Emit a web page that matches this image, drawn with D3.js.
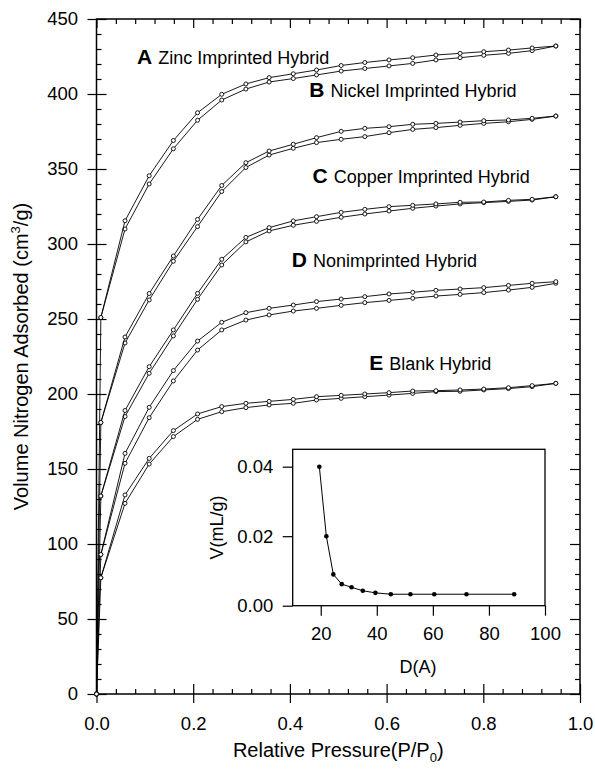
<!DOCTYPE html>
<meta charset="utf-8">
<style>
    body { margin: 0; background: #fff; }
    text { font-family: "Liberation Sans", Arial, Helvetica, sans-serif; fill: #000; }
</style>
<body>
<script src="https://cdn.jsdelivr.net/npm/d3@7/dist/d3.min.js"></script>
<script>

    // relative pressure of each measured point (first one is the origin)
    var pressure = [0, 0.009, 0.059, 0.109, 0.159, 0.209, 0.259, 0.309, 0.357, 0.407, 0.455,
        0.506, 0.555, 0.605, 0.654, 0.702, 0.752, 0.801, 0.852, 0.901, 0.950];

    // adsorption (lower) and desorption (upper) branches, cm3/g
    var zincAds = [0, 251, 310, 340, 363.5, 382.5, 396, 403.3, 408, 410.3, 412.7,
        415.3, 417, 418.7, 420.4, 422.7, 424.2, 425.8, 427.1, 428.9, 432];
    var zincDes = [null, 251, 315.5, 345.5, 369, 387.5, 399.8, 406.7, 410.9, 413.5, 416,
        419, 421, 422.7, 424.2, 426, 427.1, 428.2, 429.3, 430.7, 432];

    var nickelAds = [0, 181, 234, 262.7, 288.5, 311.6, 335, 351, 359.3, 363.8, 367.6,
        369.8, 371.6, 374.2, 376.4, 377.6, 379.1, 380.4, 381.5, 383.1, 385.3];
    var nickelDes = [null, 181, 238, 267, 292, 316.4, 339, 354.2, 362, 366.5, 370.9,
        375.1, 377.1, 378.2, 379.8, 380.4, 381.3, 382.2, 382.7, 383.8, 385.3];

    var copperAds = [0, 132, 185, 213.8, 238.7, 263.1, 286, 301.4, 308.7, 312.5, 315.1,
        317.8, 320, 322, 323.8, 325.3, 326.7, 327.6, 328.4, 329.3, 331.5];
    var copperDes = [null, 132, 189, 218.2, 242.7, 267.1, 289.8, 304.4, 310.9, 315.4, 318.2,
        321.1, 323.1, 324.9, 325.8, 326.7, 327.8, 328, 329.1, 329.8, 331.5];

    var nonAds = [0, 93, 153.8, 184.2, 208.7, 229.3, 242.7, 249.3, 252.7, 255.3, 257.1,
        259.1, 260.9, 262.4, 263.8, 265.3, 266.4, 267.6, 269.3, 271.1, 273.8];
    var nonDes = [null, 93, 160.4, 191.1, 215.6, 235.3, 247.8, 254.2, 257.1, 259.3, 261.6,
        263.3, 264.9, 266.7, 267.8, 269.1, 270, 270.9, 272.4, 273.8, 274.9];

    var blankAds = [0, 77.5, 127.1, 153.3, 171.6, 183.1, 188.2, 190.9, 192.7, 193.8, 196,
        197.1, 198.2, 199.3, 200.4, 201.6, 201.8, 202.7, 203.6, 204.9, 207.1];
    var blankDes = [null, 77.5, 132.7, 157.1, 175.6, 186.7, 191.6, 193.8, 195.1, 196.4, 198.2,
        199.1, 200, 200.9, 202, 202.2, 202.7, 203.3, 204.2, 205.6, 207.1];

    var letters = ["A", "B", "C", "D", "E"];
    var names = ["Zinc Imprinted Hybrid", "Nickel Imprinted Hybrid", "Copper Imprinted Hybrid",
        "Nonimprinted Hybrid", "Blank Hybrid"];

    // inset: pore size distribution
    var poreD = [19.5, 22, 24.5, 27.5, 31, 35, 39.5, 45, 52, 60.5, 72, 89];
    var poreV = [0.040, 0.020, 0.009, 0.0062, 0.0053, 0.0043, 0.0037, 0.0033, 0.0033, 0.0033, 0.0033, 0.0033];

    var xTicks = [0, 0.2, 0.4, 0.6, 0.8, 1.0];
    var yTicks = [0, 50, 100, 150, 200, 250, 300, 350, 400, 450];
    var insetXTicks = [20, 40, 60, 80, 100];
    var insetYTicks = [0, 0.02, 0.04];

    var width = 595,
        height = 769;

    var svg = d3.select("body").append("svg")
            .attr("width", width)
            .attr("height", height);

    var x = d3.scaleLinear().domain([0, 1]).range([96.5, 580]);
    var y = d3.scaleLinear().domain([0, 450]).range([694, 19]);

    var xMinor = d3.range(0, 1.0001, 0.04).filter(function(v) { return Math.abs(v * 5 - Math.round(v * 5)) > 1e-6; });
    var yMinor = d3.range(0, 451, 10).filter(function(v) { return v % 50 != 0; });

    function addAxis(tx, ty, axis) {
        var g = svg.append("g")
                .attr("transform", "translate(" + tx + "," + ty + ")")
                .call(axis);
        g.select(".domain").remove();
        g.selectAll("line").attr("stroke", "#000").attr("stroke-width", 1.2);
        g.selectAll("text").attr("font-size", 18.5).attr("font-family", null);
        return g;
    }

    // bottom
    addAxis(0, 694, d3.axisBottom(x).tickValues(xTicks).tickSize(9).tickPadding(14).tickFormat(d3.format(".1f")));
    addAxis(0, 694, d3.axisTop(x).tickValues(xTicks).tickSize(10).tickFormat(""));
    addAxis(0, 694, d3.axisTop(x).tickValues(xMinor).tickSize(5).tickFormat(""));
    // top
    addAxis(0, 19, d3.axisBottom(x).tickValues(xTicks).tickSize(9).tickFormat(""));
    addAxis(0, 19, d3.axisBottom(x).tickValues(xMinor).tickSize(5).tickFormat(""));
    // left
    addAxis(96.5, 0, d3.axisLeft(y).tickValues(yTicks).tickSize(9).tickPadding(9.5));
    addAxis(96.5, 0, d3.axisRight(y).tickValues(yTicks).tickSize(10).tickFormat(""));
    addAxis(96.5, 0, d3.axisRight(y).tickValues(yMinor).tickSize(5).tickFormat(""));
    // right
    addAxis(580, 0, d3.axisLeft(y).tickValues(yTicks).tickSize(10).tickFormat(""));
    addAxis(580, 0, d3.axisLeft(y).tickValues(yMinor).tickSize(5).tickFormat(""));

    svg.append("rect")
            .attr("x", x(0)).attr("y", y(450))
            .attr("width", x(1) - x(0)).attr("height", y(0) - y(450))
            .attr("fill", "none").attr("stroke", "#000").attr("stroke-width", 1.5);

    // isotherm curves
    var branches = [zincAds, zincDes, nickelAds, nickelDes, copperAds, copperDes,
        nonAds, nonDes, blankAds, blankDes];

    var line = d3.line()
            .defined(function(d) { return d[1] != null; })
            .x(function(d) { return x(d[0]); })
            .y(function(d) { return y(d[1]); });

    branches.forEach(function(vals) {
        var pts = vals.map(function(v, i) { return [pressure[i], v]; });
        svg.append("path")
                .datum(pts)
                .attr("d", line)
                .attr("fill", "none")
                .attr("stroke", "#000")
                .attr("stroke-width", 0.9);
        svg.append("g").selectAll("circle")
                .data(pts.filter(function(d) { return d[1] != null; }))
                .enter().append("circle")
                .attr("cx", function(d) { return x(d[0]); })
                .attr("cy", function(d) { return y(d[1]); })
                .attr("r", 2)
                .attr("fill", "#fff")
                .attr("stroke", "#000")
                .attr("stroke-width", 0.9);
    });

    // curve labels, anchored in data units
    var labelAt = [[0.084, 420], [0.44, 398], [0.447, 340.7], [0.404, 284.9], [0.564, 216]];
    letters.forEach(function(l, i) {
        var t = svg.append("text")
                .attr("x", x(labelAt[i][0]))
                .attr("y", y(labelAt[i][1]));
        t.append("tspan").attr("font-weight", "bold").attr("font-size", 21).text(l);
        t.append("tspan").attr("font-size", 18).attr("dx", 6).text(names[i]);
    });

    // axis titles
    svg.append("text")
            .attr("transform", "translate(28," + ((y(0) + y(450)) / 2) + ") rotate(-90)")
            .attr("text-anchor", "middle")
            .attr("font-size", 20)
            .text("Volume Nitrogen Adsorbed (cm")
            .call(function(t) {
                t.append("tspan").attr("font-size", 13).attr("dy", -8).text("3");
                t.append("tspan").attr("dy", 8).text("/g)");
            });

    svg.append("text")
            .attr("x", (x(0) + x(1)) / 2)
            .attr("y", 757)
            .attr("text-anchor", "middle")
            .attr("font-size", 20)
            .text("Relative Pressure(P/P")
            .call(function(t) {
                t.append("tspan").attr("font-size", 13).attr("dy", 5).text("0");
                t.append("tspan").attr("dy", -5).text(")");
            });

    // inset
    var ix = d3.scaleLinear().domain([10, 100]).range([292.7, 545]);
    var iy = d3.scaleLinear().domain([0, 0.045]).range([605.7, 449.3]);

    svg.append("rect")
            .attr("x", ix(10)).attr("y", iy(0.045))
            .attr("width", ix(100) - ix(10)).attr("height", iy(0) - iy(0.045))
            .attr("fill", "#fff").attr("stroke", "#000").attr("stroke-width", 1.3);

    var gx = svg.append("g")
            .attr("transform", "translate(0," + iy(0) + ")")
            .call(d3.axisBottom(ix).tickValues(insetXTicks).tickSize(10).tickPadding(11));
    var gy = svg.append("g")
            .attr("transform", "translate(" + ix(10) + ",0)")
            .call(d3.axisLeft(iy).tickValues(insetYTicks).tickSize(10).tickPadding(9.4).tickFormat(d3.format(".2f")));
    [gx, gy].forEach(function(g) {
        g.select(".domain").remove();
        g.selectAll("line").attr("stroke", "#000").attr("stroke-width", 1.2);
        g.selectAll("text").attr("font-size", 18.5).attr("font-family", null);
    });

    var inset = poreD.map(function(d, i) { return [d, poreV[i]]; });
    svg.append("path")
            .datum(inset)
            .attr("d", d3.line().x(function(d) { return ix(d[0]); }).y(function(d) { return iy(d[1]); }))
            .attr("fill", "none").attr("stroke", "#000").attr("stroke-width", 1);
    svg.append("g").selectAll("circle")
            .data(inset)
            .enter().append("circle")
            .attr("cx", function(d) { return ix(d[0]); })
            .attr("cy", function(d) { return iy(d[1]); })
            .attr("r", 2.3)
            .attr("fill", "#000");

    svg.append("text")
            .attr("x", 418)
            .attr("y", 673)
            .attr("text-anchor", "middle")
            .attr("font-size", 18)
            .text("D(A)");

    svg.append("text")
            .attr("transform", "translate(223," + ((iy(0) + iy(0.045)) / 2) + ") rotate(-90)")
            .attr("text-anchor", "middle")
            .attr("font-size", 18)
            .text("V(mL/g)");

</script>
